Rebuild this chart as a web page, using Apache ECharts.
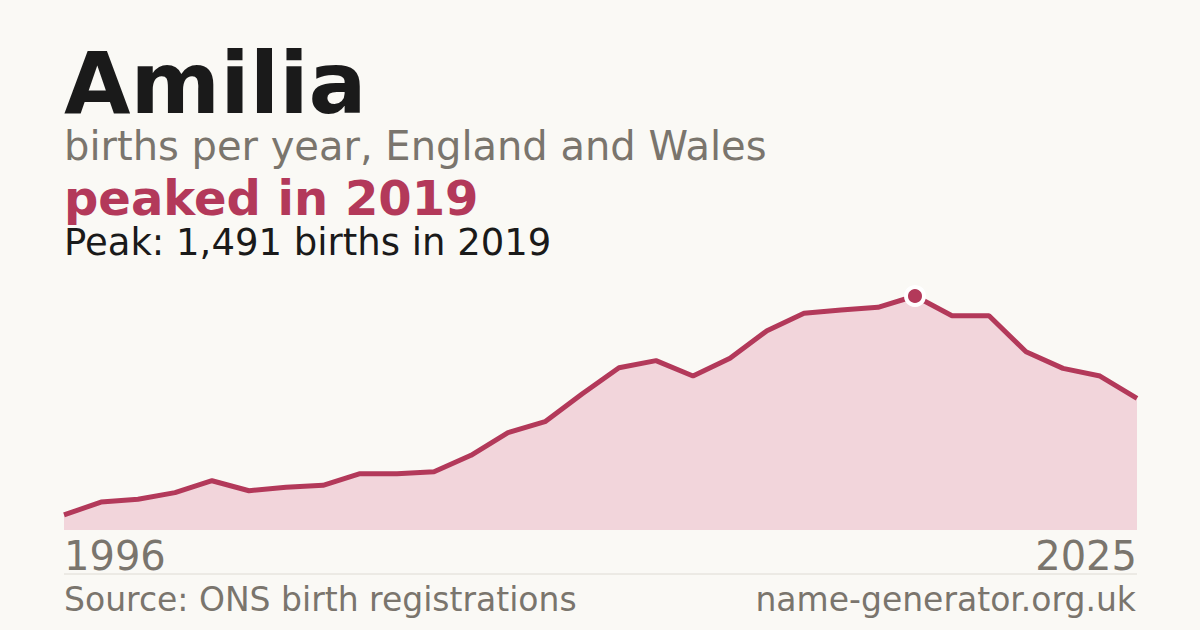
<!DOCTYPE html>
<html>
<head>
<meta charset="utf-8">
<title>Amilia - births per year</title>
<script src="https://cdn.jsdelivr.net/npm/echarts@6/dist/echarts.min.js"></script>
<style>
    html, body { margin: 0; padding: 0; background: #faf9f5; }
    #chart { width: 1200px; height: 630px; }
</style>
</head>
<body>
<div id="chart"></div>
<script>
// Data
var years = ['1996', '1997', '1998', '1999', '2000', '2001', '2002', '2003', '2004', '2005',
    '2006', '2007', '2008', '2009', '2010', '2011', '2012', '2013', '2014', '2015',
    '2016', '2017', '2018', '2019', '2020', '2021', '2022', '2023', '2024', '2025'];
var births = [96, 178, 196, 238, 314, 250, 272, 285, 359, 359,
    371, 476, 620, 690, 867, 1034, 1079, 981, 1094, 1270,
    1381, 1402, 1419, 1491, 1365, 1365, 1136, 1030, 981, 839];
var peakYear = '2019';
var peakValue = 1491;

window.onload = init;

function init() {
    var font = 'DejaVu Sans';
    var crimson = '#b3395a';
    var grey = '#7a756d';
    var ink = '#1a1a1a';

    var myChart = echarts.init(document.getElementById('chart'), null, { renderer: 'svg' });

    // Header text, y is the middle of each line
    var texts = [
        { text: 'Amilia', y: 83, size: 86, weight: 'bold', color: ink },
        { text: 'births per year, England and Wales', y: 146, size: 40, weight: 'normal', color: grey },
        { text: 'peaked in ' + peakYear, y: 198, size: 48, weight: 'bold', color: crimson },
        { text: 'Peak: ' + peakValue.toLocaleString('en-GB') + ' births in ' + peakYear, y: 242, size: 37, weight: 'normal', color: ink }
    ];
    var graphics = texts.map(function(t) {
        return {
            type: 'text',
            x: 64, y: t.y,
            style: {
                text: t.text,
                fill: t.color,
                font: t.weight + ' ' + t.size + 'px "' + font + '"',
                lineHeight: t.size,
                verticalAlign: 'middle',
                align: 'left'
            }
        };
    });

    // Separator + footer
    graphics.push({
        type: 'line',
        shape: { x1: 64, y1: 574, x2: 1137, y2: 574 },
        style: { stroke: '#dedbd4', lineWidth: 1 }
    });
    graphics.push({
        type: 'text', x: 64, y: 599,
        style: { text: 'Source: ONS birth registrations', fill: grey, font: '33px "' + font + '"', verticalAlign: 'middle', align: 'left' }
    });
    graphics.push({
        type: 'text', x: 1136, y: 599,
        style: { text: 'name-generator.org.uk', fill: grey, font: '33px "' + font + '"', verticalAlign: 'middle', align: 'right' }
    });

    var option = {
        backgroundColor: '#faf9f5',
        animation: false,
        grid: { left: 64, right: 63, top: 296, bottom: 100 },
        xAxis: {
            type: 'category',
            data: years,
            boundaryGap: false,
            axisLine: { show: false },
            axisTick: { show: false },
            splitLine: { show: false },
            axisLabel: {
                // only first and last year
                interval: function(i) { return i === 0 || i === years.length - 1; },
                alignMinLabel: 'left',
                alignMaxLabel: 'right',
                fontFamily: font,
                fontSize: 40,
                color: grey,
                verticalAlign: 'middle',
                margin: 26
            }
        },
        yAxis: {
            type: 'value',
            min: 0,
            max: peakValue,
            show: false
        },
        series: [{
            type: 'line',
            data: births,
            symbol: 'none',
            lineStyle: { color: crimson, width: 5 },
            areaStyle: { color: '#f2d5db', opacity: 1 },
            markPoint: {
                symbol: 'circle',
                symbolSize: 18,
                label: { show: false },
                itemStyle: { color: crimson, borderColor: '#ffffff', borderWidth: 4 },
                data: [{ coord: [peakYear, peakValue] }]
            }
        }],
        graphic: graphics
    };

    myChart.setOption(option);
}
</script>
</body>
</html>
